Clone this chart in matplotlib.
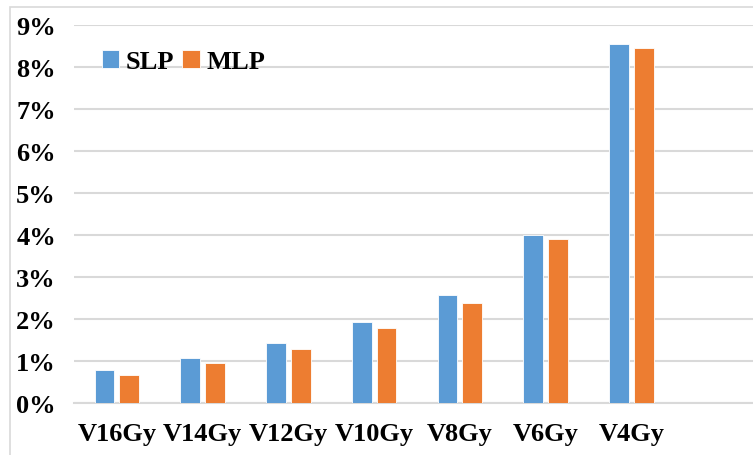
import matplotlib.pyplot as plt
import numpy as np
from matplotlib.patches import Rectangle
from matplotlib.ticker import FuncFormatter

categories = ['V16Gy', 'V14Gy', 'V12Gy', 'V10Gy', 'V8Gy', 'V6Gy', 'V4Gy']
slp = [0.79, 1.07, 1.43, 1.93, 2.58, 4.01, 8.55]
mlp = [0.67, 0.95, 1.29, 1.79, 2.37, 3.91, 8.46]

plt.rcParams['font.family'] = ['Liberation Serif', 'DejaVu Serif']
plt.rcParams['font.weight'] = 'bold'

W, H = 753, 456
fig = plt.figure(figsize=(W / 100, H / 100), dpi=100)
# plot area in pixels (the chart runs past the right edge of the picture)
left, right, top, bottom = 74, 760, 26, 404
ax = fig.add_axes([left / W, 1 - bottom / H, (right - left) / W, (bottom - top) / H])

x = np.arange(len(categories))
w = 0.23
ax.bar(x - 0.145, slp, w, color='#5B9BD5', edgecolor='white', linewidth=0.6,
       label='SLP', zorder=3)
ax.bar(x + 0.145, mlp, w, color='#ED7D31', edgecolor='white', linewidth=0.6,
       label='MLP', zorder=3)

ax.set_xlim(-0.5, 7.5)
ax.set_ylim(0, 9)
ax.set_yticks(range(0, 10))
ax.yaxis.set_major_formatter(FuncFormatter(lambda v, p: f'{int(v)}%'))
ax.set_xticks(x)
ax.set_xticklabels(categories)
ax.tick_params(axis='both', length=0, labelsize=19)
ax.tick_params(axis='y', pad=13)
ax.tick_params(axis='x', pad=14)
ax.grid(axis='y', color='#D9D9D9', linewidth=1.5, zorder=0)
for s in ['top', 'right', 'left']:
    ax.spines[s].set_visible(False)
ax.spines['bottom'].set_color('#D9D9D9')
ax.spines['bottom'].set_linewidth(1.5)

ax.legend(loc='upper left', bbox_to_anchor=(89 / W, 1 - 38 / H),
          bbox_transform=fig.transFigure, ncol=2, frameon=False,
          fontsize=19, handlelength=0.65, handleheight=0.65,
          handletextpad=0.25, columnspacing=0.3, borderpad=0)

# chart area border
fig.patches.append(Rectangle((10 / W, -0.1), 1.2, 1 - 8 / H + 0.1,
                             transform=fig.transFigure, fill=False,
                             edgecolor='#D9D9D9', linewidth=1.2))

fig.savefig('out.png', dpi=100)
